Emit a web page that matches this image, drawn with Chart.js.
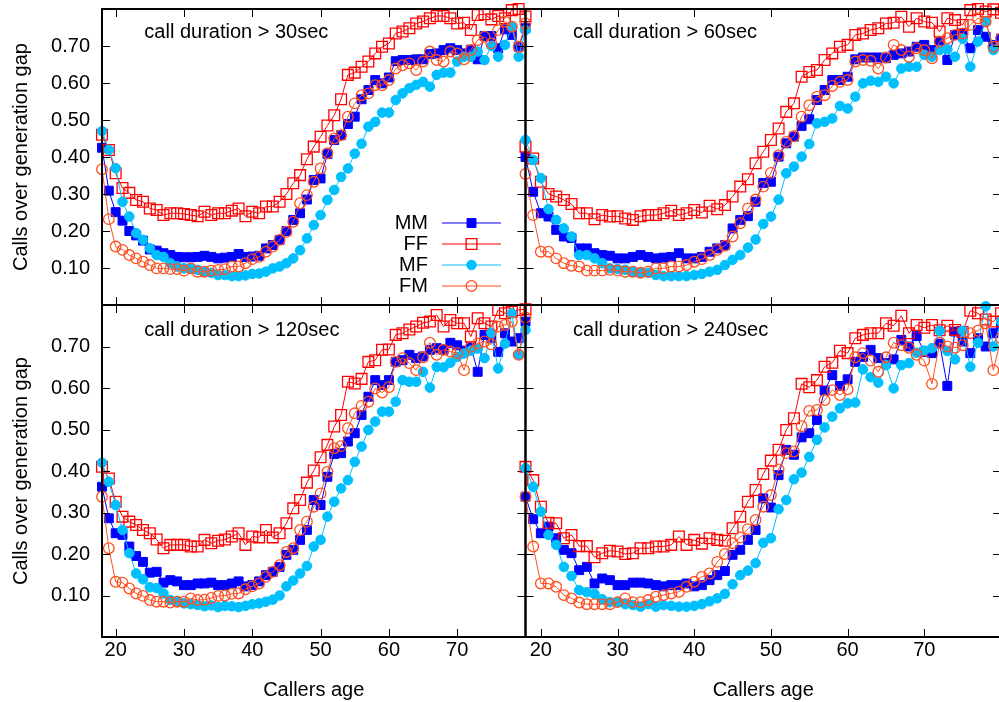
<!DOCTYPE html>
<html>
<head>
<meta charset="utf-8">
<title>Calls over generation gap</title>
<script src="https://cdn.jsdelivr.net/npm/chart.js@4.4.0/dist/chart.umd.min.js"></script>
<style>
  html, body { margin: 0; padding: 0; background: #fff; }
  #wrap { position: relative; width: 999px; height: 702px; overflow: hidden; }
  #wrap canvas { position: absolute; left: 0; top: 0; }
</style>
</head>
<body>
<div id="wrap">
  <canvas id="p30" width="1001" height="702"></canvas>
  <canvas id="p60" width="1001" height="702"></canvas>
  <canvas id="p120" width="1001" height="702"></canvas>
  <canvas id="p240" width="1001" height="702"></canvas>
</div>
<script>
// caller age (x) for every point
const ages = [18, 19, 20, 21, 22, 23, 24, 25, 26, 27, 28, 29, 30, 31, 32, 33, 34, 35, 36, 37,
  38, 39, 40, 41, 42, 43, 44, 45, 46, 47, 48, 49, 50, 51, 52, 53, 54, 55, 56, 57,
  58, 59, 60, 61, 62, 63, 64, 65, 66, 67, 68, 69, 70, 71, 72, 73, 74, 75, 76, 77,
  78, 79, 80];

const xTicks = [20, 30, 40, 50, 60, 70];
const yTicks = [0.1, 0.2, 0.3, 0.4, 0.5, 0.6, 0.7];
const seriesNames = ['MM', 'FF', 'MF', 'FM'];

// call duration > 30sec
const mm30 = [.425, .309, .251, .228, .20, .188, .174, .150, .147, .14,
  .135, .13, .129, .129, .13, .133, .13, .126, .128, .13,
  .138, .13, .131, .133, .153, .162, .176, .20, .23, .248,
  .285, .338, .342, .408, .446, .459, .489, .509, .556, .581,
  .608, .599, .615, .659, .662, .662, .664, .664, .678, .68,
  .689, .694, .689, .68, .69, .664, .727, .727, .694, .745,
  .73, .698, .748];
const ff30 = [.46, .419, .356, .316, .303, .284, .279, .261, .257, .243,
  .248, .248, .246, .243, .24, .252, .243, .248, .248, .255,
  .261, .24, .252, .248, .266, .266, .279, .30, .329, .351,
  .394, .428, .455, .485, .513, .556, .622, .628, .644, .658,
  .68, .698, .707, .734, .739, .748, .761, .766, .775, .781,
  .781, .775, .761, .763, .743, .784, .786, .772, .781, .775,
  .797, .80, .78];
const mf30 = [.47, .419, .37, .279, .239, .194, .176, .153, .135, .13,
  .113, .104, .099, .099, .095, .09, .087, .081, .081, .078,
  .078, .08, .084, .085, .09, .099, .104, .113, .126, .148,
  .18, .216, .243, .284, .311, .346, .369, .409, .436, .482,
  .495, .52, .52, .554, .572, .586, .595, .603, .59, .622,
  .628, .628, .658, .671, .671, .685, .662, .70, .671, .703,
  .752, .671, .743];
const fm30 = [.367, .232, .158, .149, .135, .126, .117, .108, .099, .099,
  .097, .097, .093, .099, .09, .09, .093, .095, .097, .104,
  .104, .113, .124, .13, .144, .158, .176, .198, .225, .275,
  .297, .333, .369, .41, .45, .459, .509, .545, .567, .572,
  .594, .594, .608, .639, .648, .653, .635, .658, .685, .662,
  .658, .685, .68, .664, .689, .716, .725, .707, .743, .766,
  .752, .698, .761];

// call duration > 60sec
const mm60 = [.40, .306, .248, .239, .203, .185, .181, .153, .153, .14,
  .135, .133, .126, .126, .13, .135, .13, .126, .128, .13,
  .14, .126, .126, .13, .144, .153, .162, .207, .23, .24,
  .279, .33, .333, .401, .437, .455, .484, .502, .554, .581,
  .608, .608, .617, .664, .669, .669, .669, .667, .676, .68,
  .685, .698, .703, .689, .712, .662, .73, .734, .694, .743,
  .725, .703, .72];
const ff60 = [.428, .396, .333, .30, .293, .284, .273, .248, .248, .232,
  .243, .239, .24, .234, .23, .24, .243, .243, .248, .255,
  .243, .248, .257, .25, .268, .259, .27, .293, .32, .34,
  .383, .414, .446, .477, .522, .545, .617, .63, .635, .662,
  .68, .698, .703, .73, .734, .743, .748, .761, .763, .779,
  .752, .775, .766, .763, .739, .775, .77, .757, .797, .80,
  .793, .799, .79];
const mf60 = [.446, .392, .343, .259, .23, .207, .185, .135, .135, .126,
  .113, .099, .097, .095, .09, .087, .087, .081, .078, .078,
  .078, .078, .081, .084, .09, .095, .108, .122, .135, .155,
  .177, .219, .239, .285, .356, .374, .401, .435, .491, .495,
  .504, .538, .531, .563, .599, .606, .603, .617, .599, .639,
  .644, .644, .676, .671, .689, .691, .671, .72, .644, .712,
  .766, .689, .70];
const fm60 = [.354, .243, .144, .144, .126, .113, .106, .104, .093, .093,
  .093, .095, .093, .09, .09, .087, .09, .099, .099, .104,
  .104, .108, .117, .124, .135, .149, .16, .185, .221, .261,
  .285, .32, .357, .405, .441, .456, .509, .54, .563, .567,
  .592, .603, .608, .658, .662, .66, .639, .669, .703, .689,
  .671, .694, .689, .667, .712, .721, .73, .734, .757, .775,
  .766, .698, .72];

// call duration > 120sec
const mm120 = [.362, .286, .25, .246, .218, .195, .181, .155, .157, .131,
  .137, .134, .125, .125, .129, .129, .131, .125, .125, .129,
  .134, .122, .125, .134, .149, .157, .169, .198, .21, .234,
  .258, .33, .318, .386, .441, .443, .471, .491, .535, .579,
  .619, .607, .619, .663, .667, .68, .672, .676, .692, .696,
  .692, .709, .703, .69, .70, .639, .728, .72, .687, .732,
  .712, .72, .76];
const ff120 = [.41, .382, .326, .29, .278, .27, .258, .25, .235, .214,
  .222, .222, .222, .218, .218, .234, .226, .232, .235, .242,
  .25, .222, .242, .24, .258, .24, .25, .274, .31, .33,
  .372, .401, .433, .463, .507, .535, .615, .611, .622, .663,
  .667, .692, .693, .728, .732, .741, .748, .757, .76, .776,
  .748, .764, .756, .756, .724, .768, .756, .748, .788, .78,
  .784, .788, .79];
const mf120 = [.42, .374, .318, .258, .202, .153, .139, .12, .118, .105,
  .089, .085, .081, .079, .077, .074, .076, .072, .075, .074,
  .072, .075, .079, .081, .085, .09, .10, .122, .136, .153,
  .171, .218, .234, .29, .326, .358, .378, .422, .459, .499,
  .519, .543, .543, .567, .619, .615, .615, .639, .601, .651,
  .65, .661, .675, .683, .69, .695, .672, .733, .647, .707,
  .78, .68, .74];
const fm120 = [.338, .214, .133, .131, .117, .105, .099, .089, .085, .085,
  .083, .085, .085, .093, .089, .09, .094, .099, .10, .104,
  .105, .115, .122, .129, .145, .157, .173, .205, .214, .258,
  .278, .314, .346, .398, .455, .46, .503, .539, .557, .567,
  .599, .589, .602, .663, .672, .66, .643, .674, .709, .68,
  .692, .688, .684, .643, .699, .707, .712, .705, .748, .752,
  .76, .68, .77];

// call duration > 240sec
const mm240 = [.338, .284, .25, .266, .238, .21, .202, .161, .169, .129,
  .141, .137, .125, .125, .131, .131, .129, .125, .122, .125,
  .125, .129, .122, .125, .137, .149, .159, .198, .21, .234,
  .258, .334, .312, .39, .451, .439, .481, .491, .523, .594,
  .631, .605, .621, .663, .675, .692, .672, .66, .669, .716,
  .70, .725, .687, .684, .707, .605, .736, .712, .684, .72,
  .70, .732, .75];
const ff240 = [.41, .378, .314, .275, .274, .238, .246, .219, .219, .192,
  .202, .208, .206, .20, .202, .214, .214, .218, .218, .222,
  .242, .222, .234, .225, .238, .234, .232, .262, .29, .326,
  .354, .393, .425, .451, .499, .527, .61, .602, .619, .651,
  .661, .69, .684, .72, .728, .732, .732, .756, .75, .774,
  .732, .752, .745, .752, .739, .75, .74, .735, .786, .78,
  .765, .76, .78];
const mf240 = [.407, .362, .302, .246, .222, .169, .147, .113, .108, .104,
  .091, .084, .084, .079, .077, .073, .079, .073, .077, .075,
  .073, .073, .075, .079, .086, .093, .104, .127, .149, .16,
  .178, .227, .238, .308, .33, .38, .396, .434, .475, .505,
  .531, .551, .563, .565, .645, .626, .613, .655, .599, .655,
  .66, .685, .69, .696, .738, .689, .669, .738, .651, .709,
  .797, .70, .76];
const fm240 = [.338, .218, .129, .129, .121, .101, .093, .083, .079, .079,
  .079, .079, .084, .093, .084, .084, .089, .097, .101, .105,
  .109, .121, .133, .145, .153, .181, .20, .226, .24, .26,
  .282, .314, .342, .404, .443, .447, .508, .545, .547, .571,
  .595, .583, .597, .674, .684, .666, .639, .674, .709, .703,
  .697, .68, .666, .61, .709, .70, .697, .703, .732, .738,
  .756, .643, .72];

const colors = ['#0000ff', '#ff0000', '#00bfff', '#ff4f1f'];
const markers = [
  { pointStyle: 'rect', radius: 6.3, fill: true, borderWidth: 1 },
  { pointStyle: 'rect', radius: 7.6, fill: false, borderWidth: 1.3 },
  { pointStyle: 'circle', radius: 4.8, fill: true, borderWidth: 1 },
  { pointStyle: 'circle', radius: 5.3, fill: false, borderWidth: 1.3 }
];

const FONT = '"Liberation Sans", Arial, Helvetica, sans-serif';
Chart.defaults.color = '#000';
Chart.defaults.font.family = FONT;
Chart.defaults.font.size = 20;

const CW = 1001, CH = 702;

// gnuplot-ish frame, inward ticks, panel label and legend
const panelDecor = {
  id: 'panelDecor',
  afterDatasetsDraw(chart, args, opts) {
    const { ctx, chartArea: a, scales: { x, y } } = chart;
    ctx.save();
    ctx.strokeStyle = '#000';
    ctx.lineWidth = 1;
    ctx.beginPath();
    xTicks.forEach(v => {
      const px = Math.round(x.getPixelForValue(v)) + 0.5;
      ctx.moveTo(px, a.bottom); ctx.lineTo(px, a.bottom - 8);
      ctx.moveTo(px, a.top); ctx.lineTo(px, a.top + 8);
    });
    yTicks.forEach(v => {
      const py = Math.round(y.getPixelForValue(v)) + 0.5;
      ctx.moveTo(a.left, py); ctx.lineTo(a.left + 8, py);
      ctx.moveTo(a.right, py); ctx.lineTo(a.right - 8, py);
    });
    ctx.stroke();
    ctx.lineWidth = 2;
    ctx.strokeRect(a.left, a.top, a.right - a.left, a.bottom - a.top);

    ctx.fillStyle = '#000';
    ctx.font = '20px ' + FONT;
    ctx.textBaseline = 'middle';
    ctx.textAlign = 'left';
    ctx.fillText(opts.title, a.left + 0.1 * (a.right - a.left), a.top + 0.078 * (a.bottom - a.top));

    if (opts.legend) {
      seriesNames.forEach((name, i) => {
        const ly = a.top + 214 + i * 21;
        ctx.fillStyle = '#000';
        ctx.textAlign = 'right';
        ctx.fillText(name, a.left + 326, ly);
        ctx.strokeStyle = colors[i];
        ctx.lineWidth = 1;
        ctx.beginPath();
        ctx.moveTo(a.left + 340, ly); ctx.lineTo(a.left + 399, ly);
        ctx.stroke();
        const m = markers[i];
        ctx.fillStyle = m.fill ? colors[i] : 'rgba(0,0,0,0)';
        ctx.lineWidth = m.borderWidth;
        Chart.helpers.drawPoint(ctx, { pointStyle: m.pointStyle, radius: m.radius, borderWidth: m.borderWidth, rotation: 0 }, a.left + 369.5, ly);
      });
    }
    ctx.restore();
  }
};

function makePanel(id, title, series, box, showY, showX, legend) {
  const datasets = series.map((vals, i) => ({
    label: seriesNames[i],
    data: ages.map((a, j) => ({ x: a, y: vals[j] })),
    borderColor: colors[i],
    borderWidth: 1,
    pointStyle: markers[i].pointStyle,
    pointRadius: markers[i].radius,
    pointBorderWidth: markers[i].borderWidth,
    pointBorderColor: colors[i],
    pointBackgroundColor: markers[i].fill ? colors[i] : 'rgba(0,0,0,0)',
    tension: 0,
    clip: false,
    order: 3 - i
  }));

  return new Chart(document.getElementById(id), {
    type: 'line',
    data: { datasets },
    options: {
      responsive: false,
      animation: false,
      devicePixelRatio: 1,
      events: [],
      layout: {
        autoPadding: false,
        padding: {
          left: showY ? 0 : box.left,
          right: CW - box.right,
          top: box.top,
          bottom: showX ? 0 : CH - box.bottom
        }
      },
      plugins: {
        legend: { display: false },
        tooltip: { enabled: false },
        panelDecor: { title, legend }
      },
      scales: {
        x: {
          type: 'linear',
          min: 18, max: 80,
          afterBuildTicks: s => { s.ticks = xTicks.map(v => ({ value: v })); },
          afterFit: s => {
            s.height = showX ? CH - box.bottom : 0;
            s.paddingLeft = 0; s.paddingRight = 0;
          },
          grid: { display: false, drawTicks: false },
          border: { display: false },
          ticks: { display: showX, padding: 1, maxRotation: 0, autoSkip: false, font: { size: 20 } },
          title: { display: showX, text: 'Callers age', padding: { top: 0, bottom: 0 }, font: { size: 20 } }
        },
        y: {
          type: 'linear',
          min: 0, max: 0.8,
          afterBuildTicks: s => { s.ticks = yTicks.map(v => ({ value: v })); },
          afterFit: s => {
            s.width = showY ? box.left : 0;
            s.paddingTop = 0; s.paddingBottom = 0;
          },
          grid: { display: false, drawTicks: false },
          border: { display: false },
          ticks: { display: showY, padding: 12, autoSkip: false, font: { size: 20 }, callback: v => v.toFixed(2) },
          title: { display: showY, text: 'Calls over generation gap', padding: { top: 9, bottom: 0 }, font: { size: 20 } }
        }
      }
    },
    plugins: [panelDecor]
  });
}

const TL = { left: 102, right: 525.5, top: 9, bottom: 305 };
const TR = { left: 525.5, right: 1001, top: 9, bottom: 305 };
const BL = { left: 102, right: 525.5, top: 305, bottom: 637 };
const BR = { left: 525.5, right: 1001, top: 305, bottom: 637 };

makePanel('p30', 'call duration > 30sec', [mm30, ff30, mf30, fm30], TL, true, false, true);
makePanel('p60', 'call duration > 60sec', [mm60, ff60, mf60, fm60], TR, false, false, false);
makePanel('p120', 'call duration > 120sec', [mm120, ff120, mf120, fm120], BL, true, true, false);
makePanel('p240', 'call duration > 240sec', [mm240, ff240, mf240, fm240], BR, false, true, false);
</script>
</body>
</html>
